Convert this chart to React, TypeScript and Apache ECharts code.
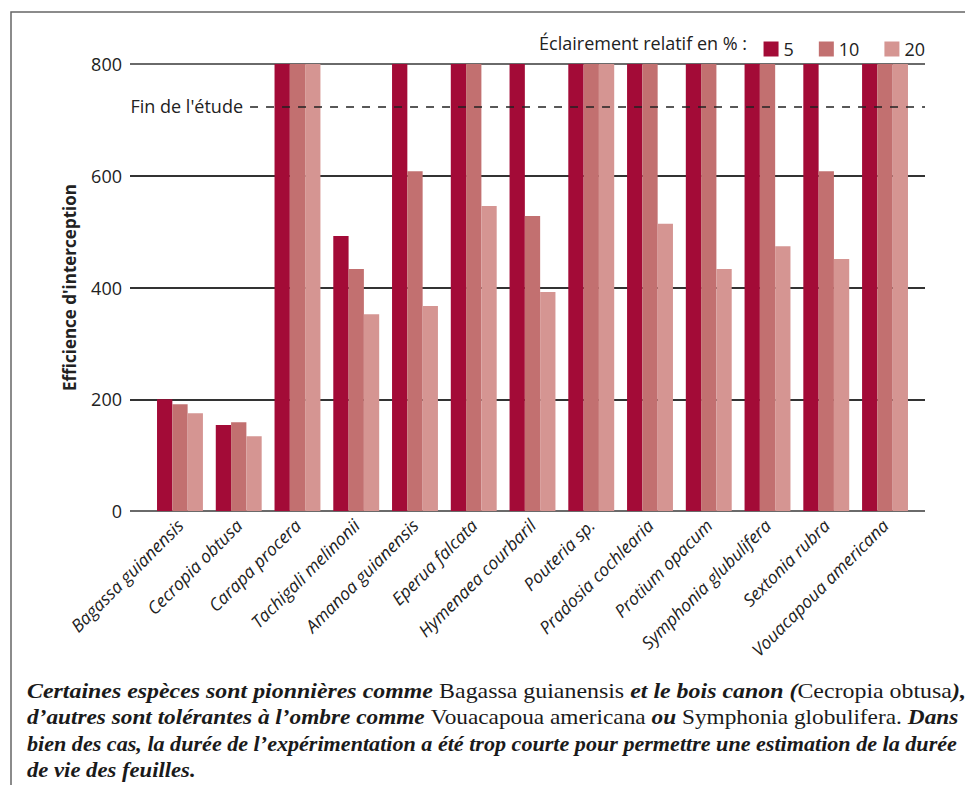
import React, { useEffect, useRef } from "react";
import * as echarts from "echarts";

const categories = [
  "Bagassa guianensis",
  "Cecropia obtusa",
  "Carapa procera",
  "Tachigali melinonii",
  "Amanoa guianensis",
  "Eperua falcata",
  "Hymenaea courbaril",
  "Pouteria sp.",
  "Pradosia cochlearia",
  "Protium opacum",
  "Symphonia glubulifera",
  "Sextonia rubra",
  "Vouacapoua americana",
];
const seriesNames = ["5", "10", "20"];
const light5 = [200, 154, 800, 492, 800, 800, 800, 800, 800, 800, 800, 800, 800];
const light10 = [191, 159, 800, 433, 608, 800, 528, 800, 800, 800, 800, 608, 800];
const light20 = [175, 134, 800, 352, 367, 546, 392, 800, 514, 433, 474, 451, 800];
const endOfStudy = 724;
const endOfStudyLabel = "Fin de l'étude";
const yName = "Efficience d'interception";
const legendTitle = "Éclairement relatif en % :";
const colors = ["#a30b37", "#c27070", "#d59592"];

const captionLines = [
  "{i|Certaines espèces sont pionnières comme }{r|Bagassa guianensis}{i| et le bois canon (}{r|Cecropia obtusa}{i|),}",
  "{i|d’autres sont tolérantes à l’ombre comme }{r|Vouacapoua americana}{i| ou }{r|Symphonia globulifera.}{i| Dans}",
  "{i|bien des cas, la durée de l’expérimentation a été trop courte pour permettre une estimation de la durée}",
  "{i|de vie des feuilles.}",
];
const captionY = [691, 717, 744, 770];
const captionScale = [1.086, 1.059, 1.006, 1.03];

const SANS = "'Open Sans', 'Noto Sans', sans-serif";
const SERIF = "'Liberation Serif', serif";

export default function App() {
  const ref = useRef<HTMLDivElement>(null);
  useEffect(() => {
    if (!ref.current) return;
    const chart = echarts.init(ref.current, null, { renderer: "svg" });
    const data = [light5, light10, light20];
    const captionRich = {
      i: { fontFamily: SERIF, fontStyle: "italic", fontWeight: 600, fontSize: 22, fill: "#1a1a1a" },
      r: { fontFamily: SERIF, fontStyle: "normal", fontWeight: 400, fontSize: 22, fill: "#1a1a1a" },
    };
    chart.setOption({
      animation: false,
      backgroundColor: "#ffffff",
      grid: [
        { left: 130, right: 40, top: 64, bottom: 274 },
        { left: 150.6, right: 50.6, top: 64, bottom: 274 },
      ],
      legend: {
        data: seriesNames,
        right: 35,
        top: 35,
        icon: "rect",
        itemWidth: 15,
        itemHeight: 15,
        itemGap: 25,
        textStyle: { fontFamily: SANS, fontSize: 18, color: "#222" },
      },
      xAxis: [
        { type: "value", gridIndex: 0, min: 0, max: 1, show: false },
        {
          type: "category",
          gridIndex: 1,
          data: categories,
          axisLine: { show: false },
          axisTick: { show: false },
          axisLabel: {
            interval: 0,
            rotate: 45,
            margin: 11,
            fontFamily: SANS,
            fontStyle: "italic",
            fontSize: 17.5,
            color: "#222",
          },
        },
      ],
      yAxis: [
        {
          type: "value",
          gridIndex: 0,
          min: 0,
          max: 800,
          interval: 200,
          axisLine: { show: false },
          axisTick: { show: false },
          axisLabel: { fontFamily: SANS, fontSize: 18, color: "#222", margin: 8 },
          splitLine: {
            lineStyle: { color: ["#6a6a6a", "#333", "#333", "#333", "#6a6a6a"], width: 2 },
          },
          name: yName,
          nameLocation: "middle",
          nameGap: 52,
          nameTextStyle: { fontFamily: SANS, fontSize: 17, fontWeight: "bold", color: "#222" },
        },
        { type: "value", gridIndex: 1, min: 0, max: 800, show: false },
      ],
      series: [
        ...seriesNames.map((n, k) => ({
          name: n,
          type: "bar",
          xAxisIndex: 1,
          yAxisIndex: 1,
          data: data[k],
          barWidth: 15.3,
          barGap: "0%",
          itemStyle: { color: colors[k] },
        })),
        {
          type: "line",
          xAxisIndex: 0,
          yAxisIndex: 0,
          data: [],
          z: 10,
          silent: true,
          markLine: {
            silent: true,
            symbol: "none",
            lineStyle: { type: [8, 8], color: "#222", width: 1.5 },
            label: {
              show: true,
              position: "start",
              distance: 7,
              formatter: endOfStudyLabel,
              fontFamily: SANS,
              fontSize: 18,
              color: "#222",
            },
            data: [[{ coord: [0.151, endOfStudy] }, { coord: [1, endOfStudy] }]],
          },
        },
      ],
      graphic: [
        {
          type: "polyline",
          shape: { points: [[11, 785], [11, 12], [965, 12]] },
          style: { stroke: "#666", lineWidth: 1.5, fill: null },
        },
        {
          type: "text",
          x: 747,
          y: 43,
          style: {
            text: legendTitle,
            align: "right",
            verticalAlign: "middle",
            fontFamily: SANS,
            fontSize: 18,
            fill: "#222",
          },
        },
        ...captionLines.map((t, i) => ({
          type: "text",
          x: 27,
          y: captionY[i],
          scaleX: captionScale[i],
          style: { text: t, rich: captionRich, verticalAlign: "middle" },
        })),
      ],
    });
    return () => chart.dispose();
  }, []);
  return (
    <div
      ref={ref}
      style={{ position: "absolute", left: 0, top: 0, width: 965, height: 785 }}
    />
  );
}
